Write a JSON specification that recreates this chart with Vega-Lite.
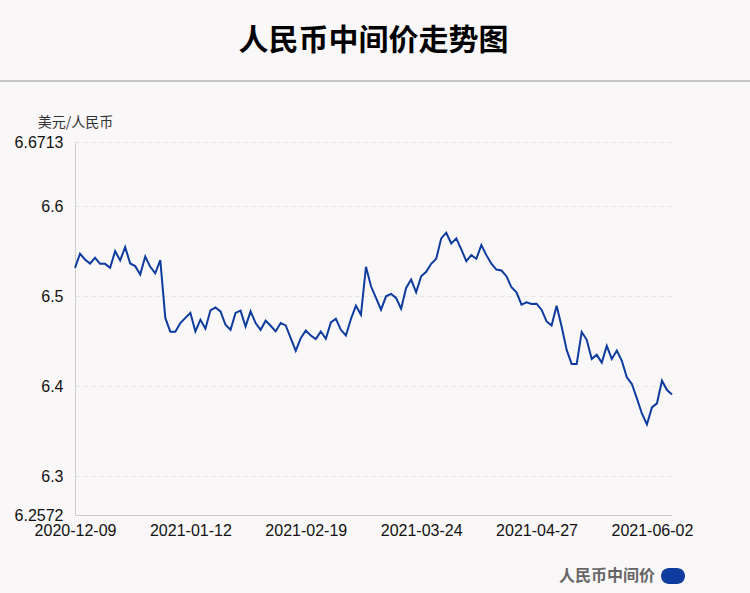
{
  "$schema": "https://vega.github.io/schema/vega-lite/v6.json",
  "width": 597,
  "height": 373,
  "autosize": {"type": "none"},
  "padding": {"left": 75, "top": 142, "right": 78, "bottom": 78},
  "background": "#faf7f8",
  "config": {"view": {"stroke": null}},
  "title": {
    "text": "人民币中间价走势图",
    "font": "Noto Sans CJK SC",
    "fontSize": 30,
    "fontWeight": "bold",
    "color": "#000000",
    "anchor": "middle",
    "offset": 24
  },
  "data": {
    "values": [
      {"date": "2020-12-09", "value": 6.5316},
      {"date": "2020-12-10", "value": 6.5472},
      {"date": "2020-12-11", "value": 6.5409},
      {"date": "2020-12-14", "value": 6.5364},
      {"date": "2020-12-15", "value": 6.5428},
      {"date": "2020-12-16", "value": 6.536},
      {"date": "2020-12-17", "value": 6.536},
      {"date": "2020-12-18", "value": 6.5316},
      {"date": "2020-12-21", "value": 6.5502},
      {"date": "2020-12-22", "value": 6.5398},
      {"date": "2020-12-23", "value": 6.5546},
      {"date": "2020-12-24", "value": 6.5364},
      {"date": "2020-12-25", "value": 6.5335},
      {"date": "2020-12-28", "value": 6.5242},
      {"date": "2020-12-29", "value": 6.5442},
      {"date": "2020-12-30", "value": 6.5327},
      {"date": "2020-12-31", "value": 6.5255},
      {"date": "2021-01-04", "value": 6.5403},
      {"date": "2021-01-05", "value": 6.476},
      {"date": "2021-01-06", "value": 6.4606},
      {"date": "2021-01-07", "value": 6.4607},
      {"date": "2021-01-08", "value": 6.4703},
      {"date": "2021-01-11", "value": 6.476},
      {"date": "2021-01-12", "value": 6.4815},
      {"date": "2021-01-13", "value": 6.461},
      {"date": "2021-01-14", "value": 6.474},
      {"date": "2021-01-15", "value": 6.464},
      {"date": "2021-01-18", "value": 6.4844},
      {"date": "2021-01-19", "value": 6.4877},
      {"date": "2021-01-20", "value": 6.4833},
      {"date": "2021-01-21", "value": 6.4684},
      {"date": "2021-01-22", "value": 6.4628},
      {"date": "2021-01-25", "value": 6.4815},
      {"date": "2021-01-26", "value": 6.484},
      {"date": "2021-01-27", "value": 6.4665},
      {"date": "2021-01-28", "value": 6.4833},
      {"date": "2021-01-29", "value": 6.4703},
      {"date": "2021-02-01", "value": 6.4628},
      {"date": "2021-02-02", "value": 6.4729},
      {"date": "2021-02-03", "value": 6.4673},
      {"date": "2021-02-04", "value": 6.461},
      {"date": "2021-02-05", "value": 6.4703},
      {"date": "2021-02-08", "value": 6.4677},
      {"date": "2021-02-09", "value": 6.4536},
      {"date": "2021-02-10", "value": 6.4394},
      {"date": "2021-02-18", "value": 6.4536},
      {"date": "2021-02-19", "value": 6.462},
      {"date": "2021-02-22", "value": 6.4565},
      {"date": "2021-02-23", "value": 6.4525},
      {"date": "2021-02-24", "value": 6.461},
      {"date": "2021-02-25", "value": 6.4528},
      {"date": "2021-02-26", "value": 6.471},
      {"date": "2021-03-01", "value": 6.4751},
      {"date": "2021-03-02", "value": 6.4628},
      {"date": "2021-03-03", "value": 6.4565},
      {"date": "2021-03-04", "value": 6.4748},
      {"date": "2021-03-05", "value": 6.4896},
      {"date": "2021-03-08", "value": 6.4796},
      {"date": "2021-03-09", "value": 6.5328},
      {"date": "2021-03-10", "value": 6.5111},
      {"date": "2021-03-11", "value": 6.4982},
      {"date": "2021-03-12", "value": 6.4851},
      {"date": "2021-03-15", "value": 6.5},
      {"date": "2021-03-16", "value": 6.5026},
      {"date": "2021-03-17", "value": 6.4982},
      {"date": "2021-03-18", "value": 6.4862},
      {"date": "2021-03-19", "value": 6.5093},
      {"date": "2021-03-22", "value": 6.5186},
      {"date": "2021-03-23", "value": 6.5044},
      {"date": "2021-03-24", "value": 6.5223},
      {"date": "2021-03-25", "value": 6.5272},
      {"date": "2021-03-26", "value": 6.5361},
      {"date": "2021-03-29", "value": 6.5417},
      {"date": "2021-03-30", "value": 6.5643},
      {"date": "2021-03-31", "value": 6.5706},
      {"date": "2021-04-01", "value": 6.5587},
      {"date": "2021-04-02", "value": 6.5643},
      {"date": "2021-04-06", "value": 6.552},
      {"date": "2021-04-07", "value": 6.539},
      {"date": "2021-04-08", "value": 6.5457},
      {"date": "2021-04-09", "value": 6.5417},
      {"date": "2021-04-12", "value": 6.5569},
      {"date": "2021-04-13", "value": 6.5457},
      {"date": "2021-04-14", "value": 6.5361},
      {"date": "2021-04-15", "value": 6.5297},
      {"date": "2021-04-16", "value": 6.5286},
      {"date": "2021-04-19", "value": 6.5223},
      {"date": "2021-04-20", "value": 6.51},
      {"date": "2021-04-21", "value": 6.5044},
      {"date": "2021-04-22", "value": 6.4907},
      {"date": "2021-04-23", "value": 6.4933},
      {"date": "2021-04-26", "value": 6.4915},
      {"date": "2021-04-27", "value": 6.4918},
      {"date": "2021-04-28", "value": 6.4851},
      {"date": "2021-04-29", "value": 6.4721},
      {"date": "2021-04-30", "value": 6.4677},
      {"date": "2021-05-06", "value": 6.4896},
      {"date": "2021-05-07", "value": 6.4665},
      {"date": "2021-05-10", "value": 6.4405},
      {"date": "2021-05-11", "value": 6.4249},
      {"date": "2021-05-12", "value": 6.4249},
      {"date": "2021-05-13", "value": 6.4603},
      {"date": "2021-05-14", "value": 6.4517},
      {"date": "2021-05-17", "value": 6.4305},
      {"date": "2021-05-18", "value": 6.435},
      {"date": "2021-05-19", "value": 6.4264},
      {"date": "2021-05-20", "value": 6.445},
      {"date": "2021-05-21", "value": 6.4305},
      {"date": "2021-05-24", "value": 6.4398},
      {"date": "2021-05-25", "value": 6.4283},
      {"date": "2021-05-26", "value": 6.4101},
      {"date": "2021-05-27", "value": 6.4026},
      {"date": "2021-05-28", "value": 6.3867},
      {"date": "2021-05-31", "value": 6.3699},
      {"date": "2021-06-01", "value": 6.3577},
      {"date": "2021-06-02", "value": 6.3766},
      {"date": "2021-06-03", "value": 6.3811},
      {"date": "2021-06-04", "value": 6.4063},
      {"date": "2021-06-07", "value": 6.3959},
      {"date": "2021-06-08", "value": 6.3911}
    ]
  },
  "layer": [
    {
      "mark": {"type": "rule", "stroke": "#c4c4c4", "strokeWidth": 2},
      "encoding": {
        "y": {"value": -61},
        "x": {"value": -75},
        "x2": {"value": 675}
      }
    },
    {
      "mark": {"type": "line", "strokeWidth": 2, "interpolate": "linear"},
      "encoding": {
        "x": {
          "field": "date",
          "type": "ordinal",
          "scale": {"type": "point", "padding": 0},
          "axis": {
            "values": ["2020-12-09", "2021-01-12", "2021-02-19", "2021-03-24", "2021-04-27", "2021-06-02"],
            "labelAngle": 0,
            "ticks": false,
            "domainColor": "#cccccc",
            "grid": false,
            "title": null,
            "labelFont": "Liberation Sans",
            "labelFontSize": 16,
            "labelColor": "#111111",
            "labelPadding": 7
          }
        },
        "y": {
          "field": "value",
          "type": "quantitative",
          "scale": {"domain": [6.2572, 6.6713], "nice": false, "zero": false},
          "axis": {
            "values": [6.2572, 6.3, 6.4, 6.5, 6.6, 6.6713],
            "format": ".4~f",
            "ticks": false,
            "domainColor": "#cccccc",
            "grid": true,
            "gridColor": "#e2e2e2",
            "gridDash": [4, 4],
            "labelFont": "Liberation Sans",
            "labelFontSize": 16,
            "labelColor": "#111111",
            "labelPadding": 12,
            "labelFlush": false,
            "title": "美元/人民币",
            "titleFont": "Noto Sans CJK SC",
            "titleFontSize": 14,
            "titleFontWeight": "normal",
            "titleColor": "#333333",
            "titleAngle": 0,
            "titleAlign": "center",
            "titleBaseline": "alphabetic",
            "titleX": 0,
            "titleY": -16
          }
        },
        "color": {
          "datum": "人民币中间价",
          "type": "nominal",
          "scale": {"range": ["#0d3b9e"]},
          "legend": {
            "title": null,
            "orient": "none",
            "legendX": 586,
            "legendY": 422,
            "padding": 0,
            "symbolType": "M-0.333,-0.667L0.333,-0.667A0.667,0.667 0 0 1 0.333,0.667L-0.333,0.667A0.667,0.667 0 0 1 -0.333,-0.667Z",
            "symbolSize": 576,
            "symbolStrokeWidth": 0,
            "symbolFillColor": "#0d3b9e",
            "labelAlign": "right",
            "labelOffset": -30,
            "labelFont": "Noto Sans CJK SC",
            "labelFontSize": 16,
            "labelFontWeight": "bold",
            "labelColor": "#666666"
          }
        }
      }
    }
  ]
}
